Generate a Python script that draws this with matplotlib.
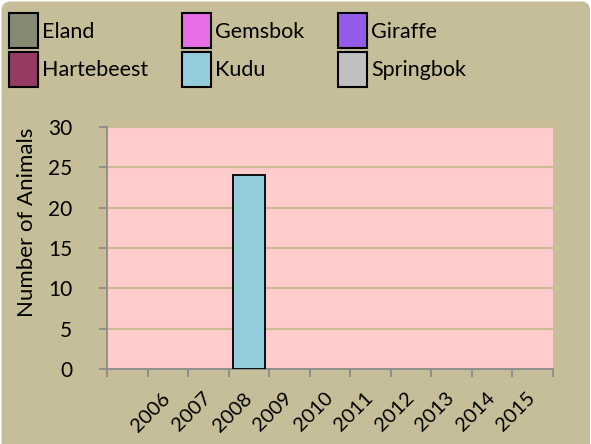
import matplotlib
matplotlib.use("Agg")
import matplotlib.pyplot as plt
import numpy as np
from matplotlib.patches import Rectangle, FancyBboxPatch
from matplotlib.transforms import IdentityTransform

categories = ["", "2006", "2007", "2008", "2009", "2010", "2011", "2012", "2013", "2014", "2015"]
series_names = ["Eland", "Gemsbok", "Giraffe", "Hartebeest", "Kudu", "Springbok"]
series_colors = ["#878A72", "#E86EE8", "#955BEB", "#963C64", "#93CDDD", "#C0C0C0"]
nan = np.nan
eland = [nan] * 11
gemsbok = [nan] * 11
giraffe = [nan] * 11
hartebeest = [nan] * 11
kudu = [nan, nan, nan, 24, nan, nan, nan, nan, nan, nan, nan]
springbok = [nan] * 11
series_values = [eland, gemsbok, giraffe, hartebeest, kudu, springbok]

plt.rcParams['font.family'] = ['Lato', 'DejaVu Sans']

W, H = 591, 444
bg = "#C6BE98"
fig = plt.figure(figsize=(W / 100, H / 100), dpi=100, facecolor="white")

fig.add_artist(FancyBboxPatch((1.5, -20), W - 2.5, H - 1.5 + 20,
                              boxstyle="round,pad=0,rounding_size=9",
                              facecolor=bg, edgecolor="none",
                              transform=IdentityTransform(), zorder=-10))

ax = fig.add_axes([107/W, 1-369/H, (553-107)/W, (369-127)/H])
ax.set_facecolor("#FFCCCC")

x = np.arange(len(categories))
for name, col, vals in zip(series_names, series_colors, series_values):
    ax.bar(x, vals, width=0.79, color=col, edgecolor="black", linewidth=1.3, zorder=3)

ax.set_xlim(-0.5, len(categories) - 0.5)
ax.set_ylim(0, 30)
ax.set_yticks(np.arange(0, 31, 5))
ax.yaxis.grid(True, color="#CDBB93", linewidth=1.5, zorder=1)
ax.set_axisbelow(True)

ax.set_xticks(x)
ax.set_xticklabels(categories, rotation=45, ha="right", va="center", rotation_mode="anchor")
ax.set_xticks(np.arange(-0.5, len(categories), 1), minor=True)
ax.tick_params(axis="x", which="major", length=0, pad=19, labelsize=14.5)
ax.tick_params(axis="x", which="minor", length=6, width=1.3, color="#8C8C8C", direction="out")
ax.tick_params(axis="y", length=6, width=1.3, color="#8C8C8C", labelsize=15, pad=19)

for s in ["top", "right"]:
    ax.spines[s].set_visible(False)
for s in ["left", "bottom"]:
    ax.spines[s].set_color("#8C8C8C")
    ax.spines[s].set_linewidth(1.3)

ax.set_ylabel("Number of Animals", fontsize=16, labelpad=10)
ax.yaxis.set_label_coords(37 / W, 0.5, transform=fig.transFigure)

# legend drawn as a 2x3 grid (row-major), positions in pixels
col_x = [9, 182, 338]
row_top = [13, 52]
pw, ph = 29, 35
for i, (name, col) in enumerate(zip(series_names, series_colors)):
    r, c = divmod(i, 3)
    px, py = col_x[c], row_top[r]
    fig.add_artist(Rectangle((px / W, 1 - (py + ph) / H), pw / W, ph / H,
                             facecolor=col, edgecolor="black", linewidth=1.5,
                             transform=fig.transFigure))
    fig.text((px + pw + 4) / W, 1 - (py + ph / 2 + 1) / H, name, fontsize=15.5,
             ha="left", va="center")

fig.savefig("out.png", dpi=100, facecolor="white")
